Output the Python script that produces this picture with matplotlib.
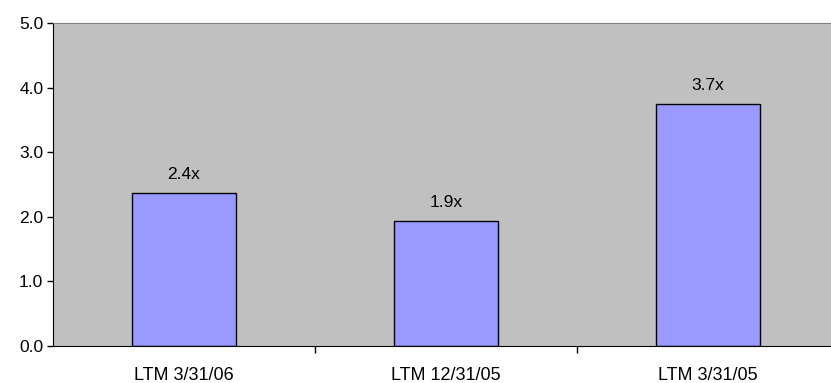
import matplotlib.pyplot as plt
import numpy as np

plt.rcParams['font.family'] = ['Liberation Sans', 'DejaVu Sans']

categories = ['LTM 3/31/06', 'LTM 12/31/05', 'LTM 3/31/05']
values = [2.37, 1.94, 3.74]
labels = ['2.4x', '1.9x', '3.7x']
yticks = [0.0, 1.0, 2.0, 3.0, 4.0, 5.0]

fig = plt.figure(figsize=(8.31, 3.83), dpi=100)
ax = fig.add_axes([53 / 831, 1 - 346 / 383, 786 / 831, 323 / 383])
ax.set_facecolor('#C0C0C0')

x = np.arange(len(categories))
bars = ax.bar(x, values, width=0.4, color='#9999FF', edgecolor='black', linewidth=1)
for b, lab in zip(bars, labels):
    ax.annotate(lab, (b.get_x() + b.get_width() / 2, b.get_height()),
                xytext=(0, 8), textcoords='offset points',
                ha='center', va='bottom', fontsize=12.5)

ax.set_xlim(-0.5, len(categories) - 0.5)
ax.set_ylim(0, 5)
ax.set_yticks(yticks)
ax.set_yticklabels([f'{v:.1f}' for v in yticks], fontsize=12.5)
ax.set_xticks(x)
ax.set_xticklabels(categories, fontsize=13)
ax.tick_params(axis='x', length=0, pad=15)
ax.tick_params(axis='y', length=4, width=1, direction='out', pad=3)
ax.set_xticks(np.arange(0.5, len(categories) - 0.5, 1), minor=True)
ax.tick_params(axis='x', which='minor', length=5, width=1, direction='out')

ax.spines['right'].set_visible(False)
ax.spines['top'].set_color('#808080')
ax.spines['left'].set_color('black')
ax.spines['bottom'].set_color('black')

plt.savefig('out.png', dpi=100)
